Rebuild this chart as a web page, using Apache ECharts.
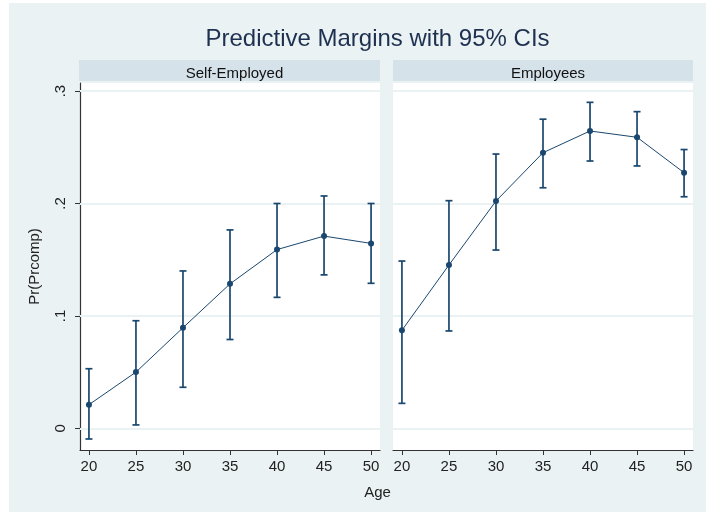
<!DOCTYPE html>
<html><head><meta charset="utf-8">
<script src="https://cdn.jsdelivr.net/npm/echarts@6/dist/echarts.min.js"></script>
<style>html,body{margin:0;padding:0;background:#fff}#c{width:706px;height:513px}</style>
</head><body><div id="c"></div>
<script>
const ages = [20, 25, 30, 35, 40, 45, 50];
const selfMargin = [0.021, 0.050, 0.0895, 0.1285, 0.159, 0.171, 0.1645];
const selfLower  = [-0.0095, 0.003, 0.0365, 0.079, 0.1165, 0.1365, 0.129];
const selfUpper  = [0.053, 0.0957, 0.140, 0.1765, 0.200, 0.2067, 0.200];
const empMargin  = [0.0872, 0.1453, 0.2022, 0.2452, 0.2645, 0.2589, 0.2274];
const empLower   = [0.0222, 0.0866, 0.1586, 0.214, 0.2378, 0.2334, 0.206];
const empUpper   = [0.1488, 0.2025, 0.244, 0.275, 0.290, 0.2817, 0.248];
const yTicks = [0, 0.1, 0.2, 0.3];
const yTickLabels = ['0', '.1', '.2', '.3'];
const panelTitles = ['Self-Employed', 'Employees'];
const chartTitle = 'Predictive Margins with 95% CIs';
const yTitle = 'Pr(Prcomp)';
const xTitle = 'Age';

const NAVY = '#1a476f';
const BG = '#eaf2f3';
const STRIP = '#d6e2e9';
const GRID = '#eaf2f3';
const FONT = 'Liberation Sans, Arial, sans-serif';

const chart = echarts.init(document.getElementById('c'), null, {renderer: 'canvas'});

const panels = [
  {left: 80, top: 83, width: 300, height: 367},
  {left: 393, top: 83, width: 300, height: 367}
];

function xAxisCfg(i) {
  return {
    type: 'value', gridIndex: i, min: 19.05, max: 50.95,
    axisLine: {show: true, onZero: false, lineStyle: {color: '#333', width: 1.2}},
    axisTick: {show: true, length: 5, customValues: ages, lineStyle: {color: '#333'}},
    axisLabel: {show: true, customValues: ages, margin: 9, fontSize: 15, color: '#222', fontFamily: FONT},
    splitLine: {show: false}
  };
}
function yAxisCfg(i) {
  const left = i === 0;
  return {
    type: 'value', gridIndex: i, min: -0.0193, max: 0.3072,
    axisLine: {show: left, lineStyle: {color: '#333', width: 1.2}},
    axisTick: {show: left, length: 5, customValues: yTicks, lineStyle: {color: '#333'}},
    axisLabel: {show: left, customValues: yTicks, rotate: 90, margin: 12, fontSize: 15, color: '#222', fontFamily: FONT,
      formatter: v => { const k = yTicks.findIndex(t => Math.abs(t - v) < 1e-9); return k >= 0 ? yTickLabels[k] : ''; }},
    splitLine: {show: false},
    name: left ? yTitle : '', nameLocation: 'middle', nameGap: 38, nameRotate: 90,
    nameTextStyle: {fontSize: 15, color: '#222', fontFamily: FONT}
  };
}

function gridLines(i) {
  return {
    type: 'line', xAxisIndex: i, yAxisIndex: i, data: [], silent: true, z: 1,
    markLine: {silent: true, z: 1, symbol: 'none', label: {show: false},
      lineStyle: {color: GRID, type: 'solid', width: 2},
      emphasis: {disabled: true},
      data: yTicks.map(t => ({yAxis: t}))}
  };
}

function errSeries(i, lower, upper) {
  return {
    type: 'custom', xAxisIndex: i, yAxisIndex: i, z: 8,
    data: ages.map((a, k) => [a, lower[k], upper[k]]),
    encode: {x: 0, y: [1, 2]},
    renderItem(params, api) {
      const x = api.value(0);
      const lo = api.coord([x, api.value(1)]);
      const hi = api.coord([x, api.value(2)]);
      const w = 3.5;
      const st = {stroke: NAVY, lineWidth: 1.7};
      return {type: 'group', children: [
        {type: 'line', shape: {x1: lo[0], y1: lo[1], x2: hi[0], y2: hi[1]}, style: st},
        {type: 'line', shape: {x1: lo[0] - w, y1: lo[1], x2: lo[0] + w, y2: lo[1]}, style: st},
        {type: 'line', shape: {x1: hi[0] - w, y1: hi[1], x2: hi[0] + w, y2: hi[1]}, style: st}
      ]};
    }
  };
}

function lineSeries(i, vals) {
  return {
    type: 'line', xAxisIndex: i, yAxisIndex: i, z: 9,
    data: ages.map((a, k) => [a, vals[k]]),
    symbol: 'circle', symbolSize: 6,
    lineStyle: {color: NAVY, width: 1},
    itemStyle: {color: NAVY},
    emphasis: {disabled: true}
  };
}

chart.setOption({
  animation: false,
  backgroundColor: '#fff',
  graphic: [
    {type: 'rect', shape: {x: 9, y: 3, width: 697, height: 509}, style: {fill: BG}, z: -10},
    {type: 'rect', shape: {x: 79, y: 60, width: 301, height: 21}, style: {fill: STRIP}, z: -5},
    {type: 'rect', shape: {x: 393, y: 60, width: 300, height: 21}, style: {fill: STRIP}, z: -5},
    {type: 'rect', shape: {x: 80, y: 83, width: 300, height: 367}, style: {fill: '#fff'}, z: -5},
    {type: 'rect', shape: {x: 393, y: 83, width: 300, height: 367}, style: {fill: '#fff'}, z: -5}
  ],
  title: [
    {text: chartTitle, left: 372.5, top: 22, textAlign: 'center',
      textStyle: {fontSize: 24, fontWeight: 'normal', color: '#1e3050', fontFamily: FONT}},
    {text: panelTitles[0], left: 229.5, top: 61, textAlign: 'center',
      textStyle: {fontSize: 15, fontWeight: 'normal', color: '#111', fontFamily: FONT}},
    {text: panelTitles[1], left: 543, top: 61, textAlign: 'center',
      textStyle: {fontSize: 15, fontWeight: 'normal', color: '#111', fontFamily: FONT}},
    {text: xTitle, left: 372.5, top: 480, textAlign: 'center',
      textStyle: {fontSize: 15, fontWeight: 'normal', color: '#222', fontFamily: FONT}}
  ],
  grid: panels.map(p => Object.assign({containLabel: false}, p)),
  xAxis: [xAxisCfg(0), xAxisCfg(1)],
  yAxis: [yAxisCfg(0), yAxisCfg(1)],
  series: [
    gridLines(0), gridLines(1),
    errSeries(0, selfLower, selfUpper), lineSeries(0, selfMargin),
    errSeries(1, empLower, empUpper), lineSeries(1, empMargin)
  ]
});
</script></body></html>
